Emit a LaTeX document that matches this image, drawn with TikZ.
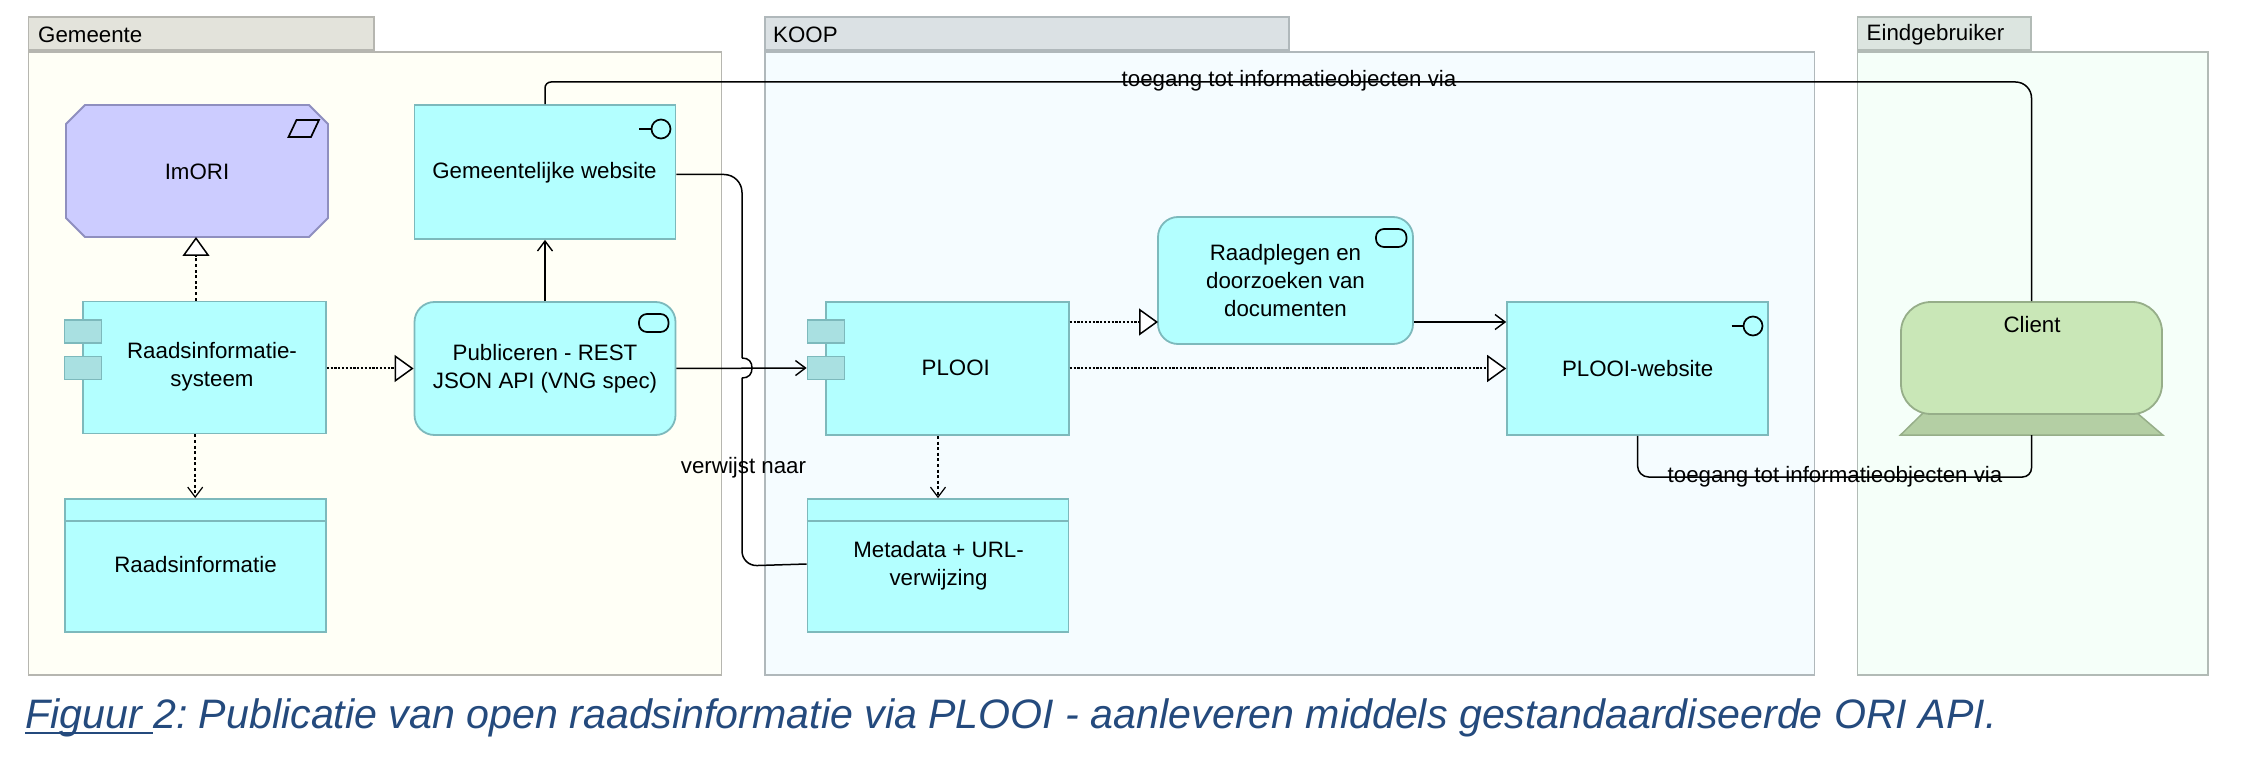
\documentclass[tikz,border=0pt]{standalone}
\usepackage{fontspec}
\setmainfont{Liberation Sans}
\usetikzlibrary{arrows.meta,calc,positioning}
\definecolor{cyanfill}{HTML}{B3FFFF}
\definecolor{cyanline}{HTML}{7DB9BC}
\definecolor{cyantab}{HTML}{A9E0E1}
\definecolor{purplefill}{HTML}{CCCCFF}
\definecolor{purpleline}{HTML}{8F8FBF}
\definecolor{greenfill}{HTML}{C9E7B7}
\definecolor{greenline}{HTML}{96AE89}
\definecolor{greenbase}{HTML}{B4CFA4}
\definecolor{capblue}{HTML}{244A7D}
\definecolor{gemline}{HTML}{B6B6B0}
\definecolor{gemfill}{HTML}{FFFFF6}
\definecolor{gemtabfill}{HTML}{E3E3DB}
\definecolor{koopline}{HTML}{B0B8BB}
\definecolor{koopfill}{HTML}{F5FCFF}
\definecolor{kooptabfill}{HTML}{DBE1E4}
\definecolor{eindline}{HTML}{B2BBB6}
\definecolor{eindfill}{HTML}{F5FFF9}
\definecolor{eindtabfill}{HTML}{DCE5E0}
\tikzset{
  x=1pt,y=-1pt,
  every node/.style={font=\fontsize{22.3}{28}\selectfont,inner sep=0pt,align=center,text=black},
  elem/.style={draw=cyanline,fill=cyanfill,line width=1.8pt,minimum width=#1,rectangle},
  elem/.default=261pt,
  rnd/.style={rounded corners=20pt},
  tabbox/.style={draw=cyanline,fill=cyantab,line width=1.8pt,minimum width=37pt,minimum height=23pt},
  grpbody/.style={line width=1.8pt,anchor=north west,minimum height=623pt},
  grptab/.style={line width=1.8pt,anchor=south west,minimum height=33pt},
  conn/.style={line width=1.5pt,black},
  flow/.style={conn,-{Straight Barb[length=10pt,width=15pt,line width=1.4pt]}},
  dep/.style={line width=1.5pt,black,dash pattern=on 3pt off 2.6pt,-{Straight Barb[length=10pt,width=15pt,line width=1.2pt]}},
  realh/.style={line width=2pt,black,dash pattern=on 2.2pt off 1.6pt,-{Triangle[open,length=19pt,width=27pt,fill=white,line width=1.5pt]}},
  realv/.style={line width=1.5pt,black,dash pattern=on 3pt off 2.6pt,-{Triangle[open,length=19pt,width=27pt,fill=white,line width=1.5pt]}},
  icon/.style={line width=1.7pt,black},
}
\frenchspacing
\newsavebox{\capbox}
\newcommand{\capunder}[1]{\sbox{\capbox}{#1}\rlap{\rule[-5.5pt]{\wd\capbox}{2pt}}\usebox{\capbox}}
\begin{document}
\begin{tikzpicture}
\useasboundingbox (0,0) rectangle (2241,783);
\fill[white] (0,0) rectangle (2241,783);

% groups
\node[grpbody,draw=gemline,fill=gemfill,minimum width=693pt] (gem) at (27.5,51) {};
\node[grptab,draw=gemline,fill=gemtabfill,minimum width=345.5pt] (gemtab) at (27.5,51) {};
\node[anchor=west] (gemlabel) at (38,34.5) {Gemeente};

\node[grpbody,draw=koopline,fill=koopfill,minimum width=1049.5pt] (koop) at (764,51) {};
\node[grptab,draw=koopline,fill=kooptabfill,minimum width=524pt] (kooptab) at (764,51) {};
\node[anchor=west] (kooplabel) at (773,34.5) {KOOP};

\node[grpbody,draw=eindline,fill=eindfill,minimum width=350.5pt] (eind) at (1856.5,51) {};
\node[grptab,draw=eindline,fill=eindtabfill,minimum width=173.5pt] (eindtab) at (1856.5,51) {};
\node[anchor=west] (eindlabel) at (1866.5,34.5) {Eindgebruiker};

% elements
\draw[draw=purpleline,fill=purplefill,line width=1.8pt] (85,105) -- (309,105) -- (328,124) -- (328,218) -- (309,237) -- (85,237) -- (66,218) -- (66,124) -- cycle;
\node (imori) at (197,172) {ImORI};
\coordinate (imorib) at (196,237);
\draw[icon] (288.5,137) -- (296.5,120) -- (319,120) -- (311,137) -- cycle;

\node[elem,minimum height=134pt] (web) at (545,172) {};
\node (weblabel) at (544.5,172.5) {Gemeentelijke website};
\draw[icon] (639,129) -- (652,129);
\draw[icon] (661,129) circle[radius=9.5pt];

\node[elem=243pt,minimum height=132pt] (rs) at (204.3,367.5) {};
\node[tabbox] (rst1) at (83,331.5) {};
\node[tabbox] (rst2) at (83,368) {};
\node (rslabel) at (212,367) {Raadsinformatie-\\systeem};

\node[elem,rnd,minimum height=133pt] (pub) at (545,368.5) {Publiceren - REST\\JSON API (VNG spec)};
\draw[icon,rounded corners=8pt] (639,314) rectangle (668.5,332);

\node[elem,minimum height=133pt] (rinfo) at (195.2,565.5) {};
\draw[cyanline,line width=1.8pt] (rinfo.north west |- 0,521) -- (rinfo.north east |- 0,521);
\node (rinfolabel) at (195.5,565) {Raadsinformatie};

\node[elem=243pt,minimum height=133pt] (plooi) at (947.3,368.5) {};
\node[tabbox] (pt1) at (826,331.5) {};
\node[tabbox] (pt2) at (826,368) {};
\node (ploilabel) at (955.7,368) {PLOOI};

\node[elem,minimum height=133pt] (meta) at (938,565.5) {};
\draw[cyanline,line width=1.8pt] (meta.north west |- 0,521) -- (meta.north east |- 0,521);
\node (metalabel) at (938.5,566) {Metadata + URL-\\verwijzing};

\node[elem=255pt,rnd,minimum height=127pt] (raad) at (1285.5,280.5) {Raadplegen en\\doorzoeken van\\documenten};
\draw[icon,rounded corners=8pt] (1376,229) rectangle (1406.5,247);

\node[elem,minimum height=133pt] (site) at (1637.6,368.5) {PLOOI-website};
\draw[icon] (1731.5,326) -- (1744,326);
\draw[icon] (1753,326) circle[radius=9.5pt];

\draw[draw=greenline,fill=greenbase,line width=1.5pt] (1923,413) -- (2137,413) -- (2162.7,435) -- (1900.5,435) -- cycle;
\coordinate (clientfoot) at (2031.5,435);
\node[draw=greenline,fill=greenfill,line width=1.8pt,rounded corners=30pt,minimum width=261pt,minimum height=112pt] (client) at (2031.5,358) {};
\node (clientlabel) at (2032,325) {Client};

% connectors
\coordinate (hoptop) at (742,358);
\coordinate (hopbot) at (742,378);
\draw[flow] (pub.north) -- (web.south);
\draw[realv] (rs.north -| imorib) -- (imorib);
\draw[dep] (rs.south -| rinfo.north) -- (rinfo.north);
\draw[realh] (rs.east |- pub.west) -- (pub.west);
\draw[dep] (plooi.south -| meta.north) -- (meta.north);
\coordinate (raadin) at (1158,322);
\draw[realh] (plooi.east |- raadin) -- (raadin);
\draw[realh] (plooi.east) -- (site.west);
\draw[flow] (raad.east |- raadin) -- (site.west |- raadin);
\draw[conn,rounded corners=18pt] ($(web.east)+(0,2.5)$) -- (742,174.5) -- (hoptop);
\draw[conn] (hoptop) .. controls (749,358) and (752,362) .. (752,368) .. controls (752,374) and (749,378) .. (hopbot);
\draw[conn,rounded corners=15pt] (hopbot) -- (742,566) -- ($(meta.west)+(0,-1.5)$);
\draw[flow] (pub.east) -- (pt2.west);
\draw[conn,rounded corners=6pt] (web.north) -- (545,82) [rounded corners=16pt] -- (2031.5,82) -- (client.north);
\draw[conn,rounded corners=11pt] (site.south) -- (1637.6,477) [rounded corners=9pt] -- (2031.5,477) -- (clientfoot);

% connector labels
\node (toplabel) at (1289,81) {toegang tot informatieobjecten via};
\node (botlabel) at (1835,477) {toegang tot informatieobjecten via};
\node (reflabel) at (743.5,468) {verwijst naar};

% caption
\node[anchor=base west,text=capblue,font=\fontsize{41.15}{48}\selectfont\itshape] (cap) at (25,728) {\capunder{Figuur }2: Publicatie van open raadsinformatie via PLOOI - aanleveren middels gestandaardiseerde ORI API.};
\end{tikzpicture}
\end{document}
